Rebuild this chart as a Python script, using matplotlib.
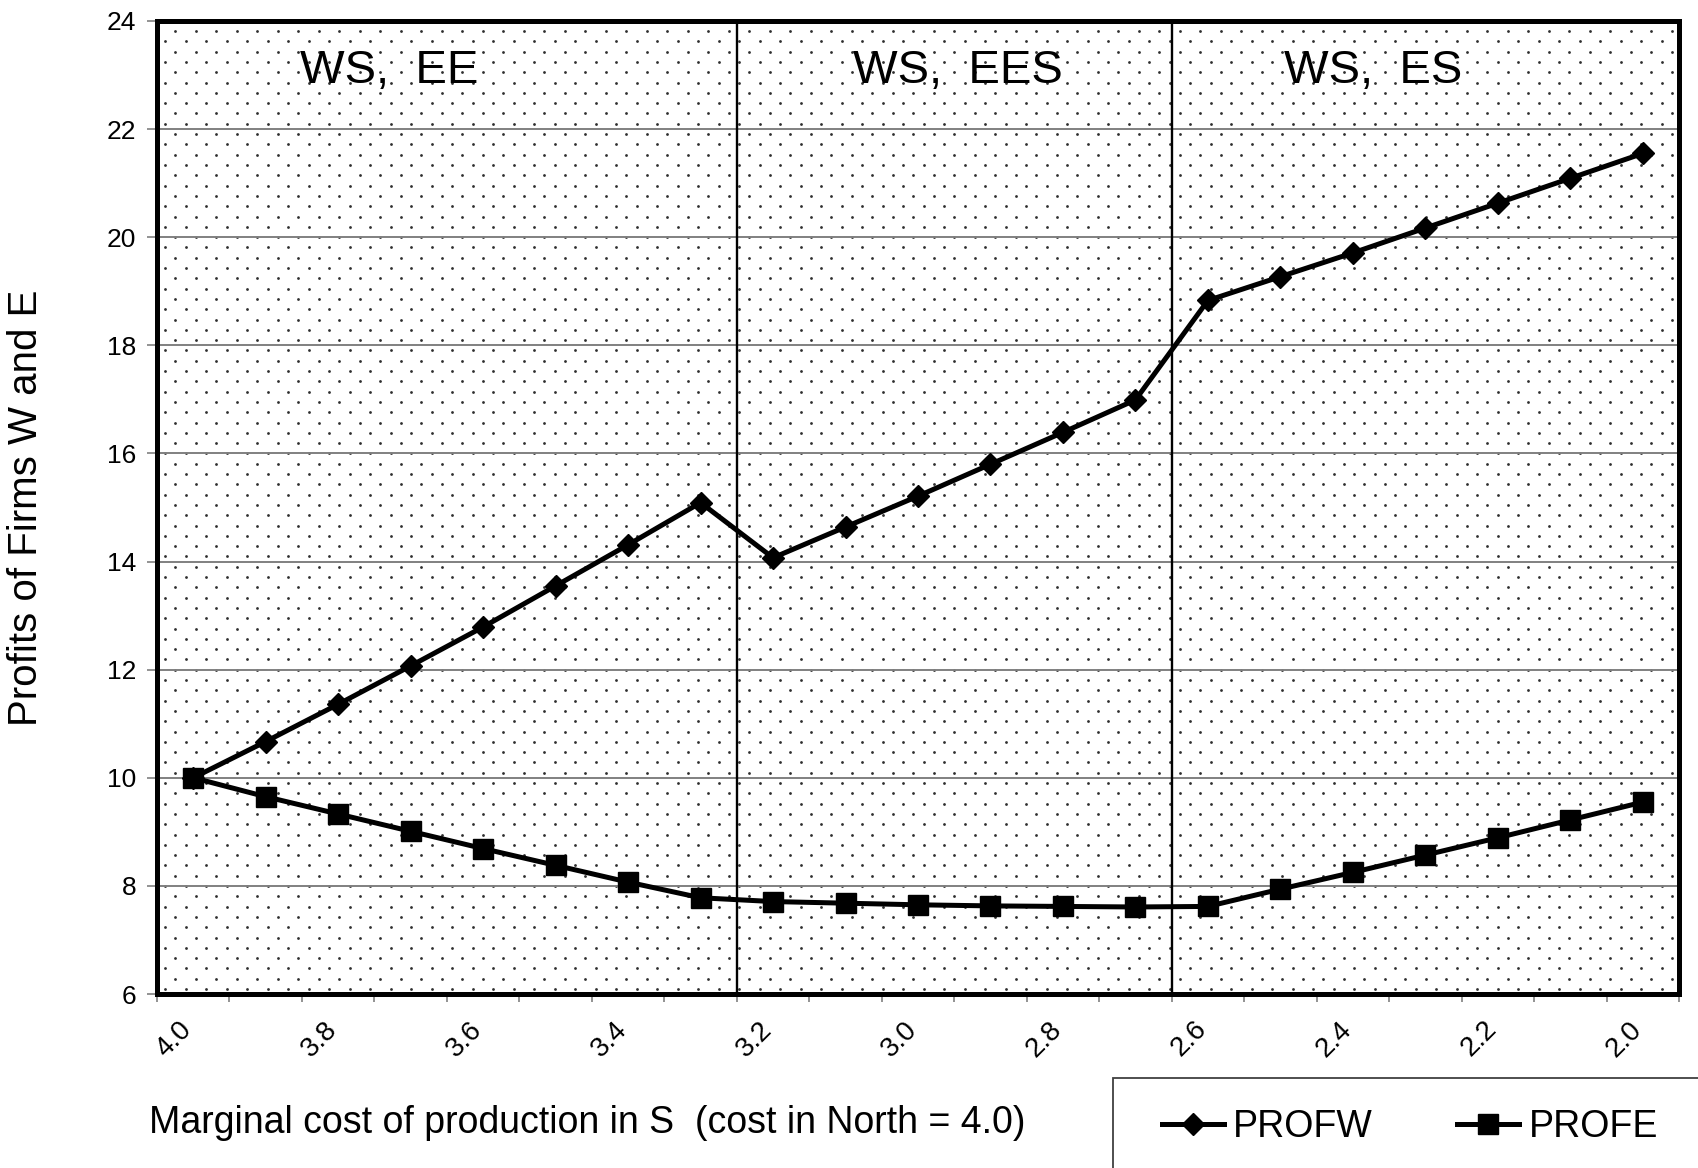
"""Profits of firms W and E against the marginal cost of production in S."""

import matplotlib

matplotlib.use("Agg")
import matplotlib.pyplot as plt
import matplotlib.transforms as mtransforms
import numpy as np
from matplotlib.patches import Rectangle

COST_S = [4.0, 3.9, 3.8, 3.7, 3.6, 3.5, 3.4, 3.3, 3.2, 3.1, 3.0,
          2.9, 2.8, 2.7, 2.6, 2.5, 2.4, 2.3, 2.2, 2.1, 2.0]
PROFW = [10.0, 10.67, 11.36, 12.07, 12.79, 13.55, 14.31, 15.09, 14.07, 14.64, 15.21,
         15.80, 16.39, 16.99, 18.83, 19.27, 19.71, 20.17, 20.63, 21.09, 21.55]
PROFE = [10.0, 9.65, 9.33, 9.01, 8.69, 8.38, 8.07, 7.78, 7.71, 7.68, 7.65,
         7.63, 7.62, 7.61, 7.62, 7.94, 8.25, 8.57, 8.89, 9.22, 9.55]
# regime switches happen between 3.3/3.2 and 2.7/2.6
REGIME_BREAKS = [3.2, 2.6]
REGIME_LABELS = ["WS,  EE", "WS,  EES", "WS,  ES"]

FONT = "Liberation Sans"

plt.rcParams.update({"font.family": FONT})

fig = plt.figure(figsize=(16.98, 11.68), dpi=100)
ax = fig.add_axes([157 / 1698, 1 - 994 / 1168, 1522 / 1698, 973 / 1168])

x = np.arange(len(COST_S))
ax.set_xlim(-0.5, len(COST_S) - 0.5)
ax.set_ylim(6, 24)

# dotted fill of the plot area
ax_w, ax_h = 1522.0, 973.0
rows = np.arange(5.0, ax_h, 10.3)
dots_x, dots_y = [], []
for k, ry in enumerate(rows):
    cols = np.arange(8.0 + (10.25 if k % 2 else 0.0), ax_w, 20.5)
    dots_x.extend(cols / ax_w)
    dots_y.extend(np.full(len(cols), ry / ax_h))
ax.plot(dots_x, dots_y, ls="none", marker="o", ms=2.0, mew=0,
        color="#2e2e2e", transform=ax.transAxes, zorder=0.2)

ax.set_axisbelow(True)
ax.yaxis.grid(True, color="#808080", lw=1.4)
for brk in REGIME_BREAKS:
    ax.axvline(COST_S.index(brk) - 0.5, color="black", lw=1.7, zorder=0.6)

ax.plot(x, PROFW, color="black", lw=3.6, marker="D", ms=11.5, zorder=3,
        label="PROFW")
ax.plot(x, PROFE, color="black", lw=3.6, marker="s", ms=15, zorder=3,
        label="PROFE")

# region labels
label_x = [2.70, 10.55, 16.28]
trans = mtransforms.blended_transform_factory(ax.transData, ax.transAxes)
for lx, text in zip(label_x, REGIME_LABELS):
    ax.text(lx, 0.936, text, transform=trans, ha="center", va="baseline",
            fontsize=34)

# axes styling
for spine in ax.spines.values():
    spine.set_linewidth(3.6)
    spine.set_color("black")

ax.set_yticks(np.arange(6, 25, 2))
ax.tick_params(axis="y", which="major", length=7, width=1.2, color="#808080",
               labelsize=19, pad=8)

ax.set_xticks(x[::2])
ax.set_xticklabels([f"{c:.1f}" for c in COST_S[::2]], rotation=45,
                   ha="right", fontsize=20)
ax.set_xticks(np.arange(len(COST_S) + 1) - 0.5, minor=True)
ax.tick_params(axis="x", which="major", length=0, pad=16)
ax.tick_params(axis="x", which="minor", length=6, width=1.2, color="#808080")
shift = mtransforms.ScaledTranslation(4 / 100, 0, fig.dpi_scale_trans)
for lab in ax.get_xticklabels():
    lab.set_transform(lab.get_transform() + shift)

ax.set_ylabel("Profits of Firms W and E", fontsize=29)
ax.yaxis.set_label_coords(-112 / 1522, 0.5)
fig.text(149 / 1698, 1 - 1133 / 1168,
         "Marginal cost of production in S  (cost in North = 4.0)",
         fontsize=27, ha="left", va="baseline")

# legend box runs off the figure edge
fig.patches.append(Rectangle((1113 / 1698, -0.05), 0.5, 0.05 + (1168 - 1078) / 1168,
                             transform=fig.transFigure, fill=False,
                             edgecolor="#404040", lw=1.3))
fig.legend(loc="center left", bbox_to_anchor=(1162 / 1698, 1 - 1127 / 1168),
           ncol=2, frameon=False, fontsize=27, borderpad=0, borderaxespad=0,
           handlelength=1.65, handletextpad=0.25, columnspacing=2.25)

fig.savefig("out.png", dpi=100)
